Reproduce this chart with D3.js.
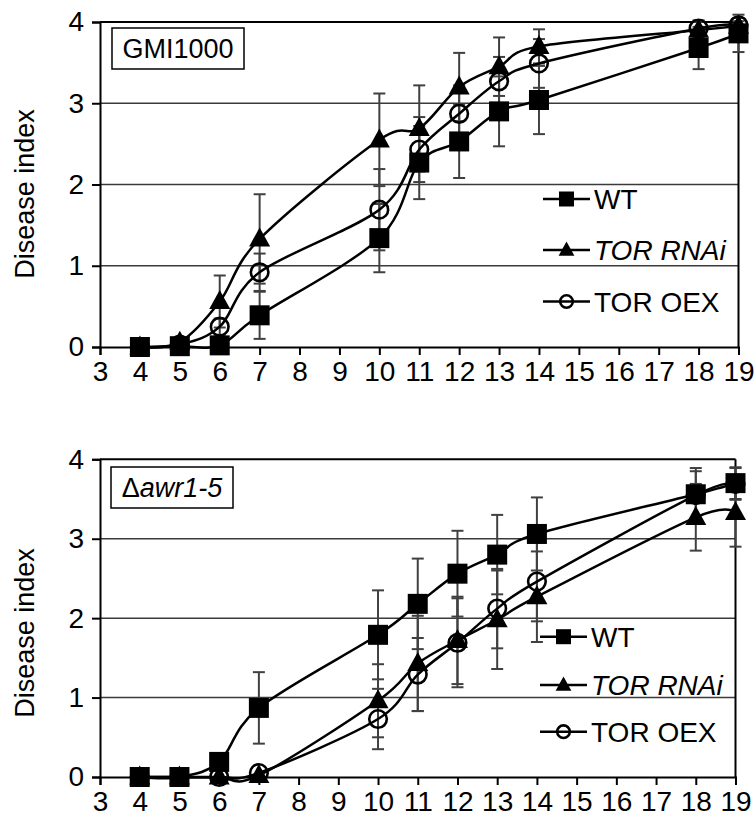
<!DOCTYPE html>
<html>
<head>
<meta charset="utf-8">
<script src="https://cdn.jsdelivr.net/npm/d3@7"></script>
<style>
  html, body { margin: 0; padding: 0; background: #fff; }
  svg { display: block; font-family: "Liberation Sans", Arial, sans-serif; }
</style>
</head>
<body>
<svg id="chart" width="755" height="823"></svg>
<script>
// ---- data ----
const days = [4, 5, 6, 7, 10, 11, 12, 13, 14, 18, 19];
const xTicks = [3, 4, 5, 6, 7, 8, 9, 10, 11, 12, 13, 14, 15, 16, 17, 18, 19];
const yTicks = [0, 1, 2, 3, 4];
const seriesNames = ["WT", "TOR RNAi", "TOR OEX"];

// Panel A: GMI1000
const gmiWT      = [0, 0.01, 0.02, 0.39, 1.34, 2.27, 2.53, 2.90, 3.04, 3.68, 3.86];
const gmiWTErr   = [0, 0, 0, 0.29, 0.42, 0.45, 0.45, 0.43, 0.42, 0.26, 0.23];
const gmiRNAi    = [0, 0.06, 0.56, 1.33, 2.55, 2.69, 3.20, 3.45, 3.70, 3.90, 3.95];
const gmiRNAiErr = [0, 0, 0.32, 0.55, 0.57, 0.53, 0.42, 0.36, 0.21, 0.10, 0.10];
const gmiOEX     = [0, 0.03, 0.25, 0.92, 1.69, 2.43, 2.87, 3.27, 3.49, 3.92, 3.96];
const gmiOEXErr  = [0, 0, 0.10, 0.23, 0.50, 0.40, 0.35, 0.30, 0.30, 0.10, 0.05];

// Panel B: Δawr1-5
const awrWT      = [0, 0, 0.19, 0.87, 1.79, 2.18, 2.56, 2.80, 3.06, 3.56, 3.70];
const awrWTErr   = [0, 0, 0, 0.45, 0.56, 0.57, 0.54, 0.50, 0.46, 0.33, 0.20];
const awrRNAi    = [0, 0, 0, 0.02, 0.96, 1.43, 1.72, 1.98, 2.27, 3.27, 3.33];
const awrRNAiErr = [0, 0, 0, 0, 0.46, 0.60, 0.55, 0.62, 0.57, 0.42, 0.43];
const awrOEX     = [0, 0, 0, 0.05, 0.73, 1.29, 1.69, 2.12, 2.46, 3.55, 3.69];
const awrOEXErr  = [0, 0, 0, 0, 0.38, 0.46, 0.56, 0.50, 0.50, 0.30, 0.20];

const svg = d3.select("#chart");
const FONT = '"Liberation Sans", Arial, sans-serif';

function marker(g, type, x, y, s) {
  if (type === "square") {
    g.append("rect").attr("x", x - s / 2).attr("y", y - s / 2)
      .attr("width", s).attr("height", s).attr("fill", "#000");
  } else if (type === "triangle") {
    const w = s * 1.05, h = s * 0.95;
    g.append("path")
      .attr("d", `M${x},${y - h * 0.6}L${x + w / 2},${y + h * 0.4}L${x - w / 2},${y + h * 0.4}Z`)
      .attr("fill", "#000");
  } else {
    g.append("circle").attr("cx", x).attr("cy", y).attr("r", s / 2 - 1.2)
      .attr("fill", "none").attr("stroke", "#000").attr("stroke-width", 2.6);
  }
}

function drawPanel(cfg) {
  const x = d3.scaleLinear().domain([3, 19]).range([cfg.left, cfg.right]);
  const y = d3.scaleLinear().domain([0, 4]).range([cfg.bottom, cfg.top]);
  const g = svg.append("g");

  // gridlines
  g.selectAll(".grid").data([1, 2, 3]).enter().append("line")
    .attr("x1", cfg.left).attr("x2", cfg.right)
    .attr("y1", d => y(d)).attr("y2", d => y(d))
    .attr("stroke", "#3a3a3a").attr("stroke-width", 1.5);

  // frame top & right
  g.append("line").attr("x1", cfg.left).attr("x2", cfg.right)
    .attr("y1", y(4)).attr("y2", y(4)).attr("stroke", "#000").attr("stroke-width", 2);
  g.append("line").attr("x1", cfg.right).attr("x2", cfg.right)
    .attr("y1", y(4)).attr("y2", y(0)).attr("stroke", "#000").attr("stroke-width", 2);

  // axes
  const yAxis = g.append("g").attr("transform", `translate(${cfg.left},0)`)
    .call(d3.axisLeft(y).tickValues(yTicks).tickFormat(d3.format("d")).tickSize(8).tickPadding(8));
  yAxis.select(".domain").attr("stroke", "#000").attr("stroke-width", 2);
  yAxis.selectAll(".tick line").attr("stroke", "#000").attr("stroke-width", 2);
  yAxis.selectAll("text").attr("font-size", 28).attr("fill", "#000").attr("font-family", FONT);

  const xAxis = g.append("g").attr("transform", `translate(0,${cfg.bottom})`)
    .call(d3.axisBottom(x).tickValues(xTicks).tickFormat(d3.format("d")).tickSize(8).tickPadding(6));
  xAxis.select(".domain").attr("stroke", "#000").attr("stroke-width", 2);
  xAxis.selectAll(".tick line").attr("stroke", "#000").attr("stroke-width", 2);
  xAxis.selectAll("text").attr("font-size", 28).attr("fill", "#000").attr("font-family", FONT)
    .attr("dy", "0.72em");

  // y title
  g.append("text")
    .attr("transform", `translate(34,${cfg.titleY}) rotate(-90)`)
    .attr("text-anchor", "middle").attr("font-size", 27).attr("fill", "#000")
    .text("Disease index");

  // label box
  g.append("rect").attr("x", cfg.box[0]).attr("y", cfg.box[1])
    .attr("width", cfg.box[2]).attr("height", cfg.box[3])
    .attr("fill", "#fff").attr("stroke", "#000").attr("stroke-width", 1.5);
  const lt = g.append("text").attr("x", cfg.box[0] + cfg.box[2] / 2)
    .attr("y", cfg.box[1] + cfg.box[3] / 2).attr("dy", "0.36em")
    .attr("text-anchor", "middle").attr("font-size", 27).attr("fill", "#000");
  cfg.label.forEach(part => {
    lt.append("tspan").attr("font-style", part.italic ? "italic" : "normal").text(part.t);
  });

  const line = d3.line().x((d, i) => x(days[i])).y(d => y(d)).curve(d3.curveCatmullRom.alpha(0));

  // error bars (behind)
  cfg.series.forEach(s => {
    s.values.forEach((v, i) => {
      const e = s.err[i];
      if (!e) return;
      const cx = x(days[i]);
      const eg = g.append("g").attr("stroke", "#404040").attr("stroke-width", 2);
      eg.append("line").attr("x1", cx).attr("x2", cx).attr("y1", y(v - e)).attr("y2", y(v + e));
      eg.append("line").attr("x1", cx - 6).attr("x2", cx + 6).attr("y1", y(v - e)).attr("y2", y(v - e));
      eg.append("line").attr("x1", cx - 6).attr("x2", cx + 6).attr("y1", y(v + e)).attr("y2", y(v + e));
    });
  });

  // lines + markers, per series
  cfg.drawOrder.forEach(k => {
    const s = cfg.series[k];
    g.append("path").datum(s.values).attr("d", line)
      .attr("fill", "none").attr("stroke", "#000").attr("stroke-width", 2.5);
    const mg = g.append("g");
    s.values.forEach((v, i) => marker(mg, s.type, x(days[i]), y(v), 20));
  });

  // legend
  cfg.series.forEach((s, k) => {
    const ly = cfg.legendY[k];
    g.append("line").attr("x1", cfg.legendX).attr("x2", cfg.legendX + 47)
      .attr("y1", ly).attr("y2", ly).attr("stroke", "#000").attr("stroke-width", 2.5);
    const lm = g.append("g");
    marker(lm, s.type, cfg.legendX + 23.5, ly, 15);
    g.append("text").attr("x", cfg.legendX + 51).attr("y", ly).attr("dy", "0.36em")
      .attr("font-size", 28).attr("fill", "#000")
      .attr("font-style", k === 1 ? "italic" : "normal")
      .text(seriesNames[k]);
  });
}

drawPanel({
  left: 100, right: 738.5, top: 22, bottom: 347, titleY: 194,
  box: [112, 28, 132, 41],
  label: [{ t: "GMI1000", italic: false }],
  series: [
    { values: gmiWT, err: gmiWTErr, type: "square" },
    { values: gmiRNAi, err: gmiRNAiErr, type: "triangle" },
    { values: gmiOEX, err: gmiOEXErr, type: "circle" }
  ],
  drawOrder: [2, 1, 0],
  legendX: 543, legendY: [199, 250, 301.5]
});

drawPanel({
  left: 100, right: 735.5, top: 459.3, bottom: 777, titleY: 633,
  box: [111, 467, 122, 41],
  label: [{ t: "Δ", italic: false }, { t: "awr1-5", italic: true }],
  series: [
    { values: awrWT, err: awrWTErr, type: "square" },
    { values: awrRNAi, err: awrRNAiErr, type: "triangle" },
    { values: awrOEX, err: awrOEXErr, type: "circle" }
  ],
  drawOrder: [2, 1, 0],
  legendX: 540, legendY: [636.7, 685, 731.7]
});
</script>
</body>
</html>
